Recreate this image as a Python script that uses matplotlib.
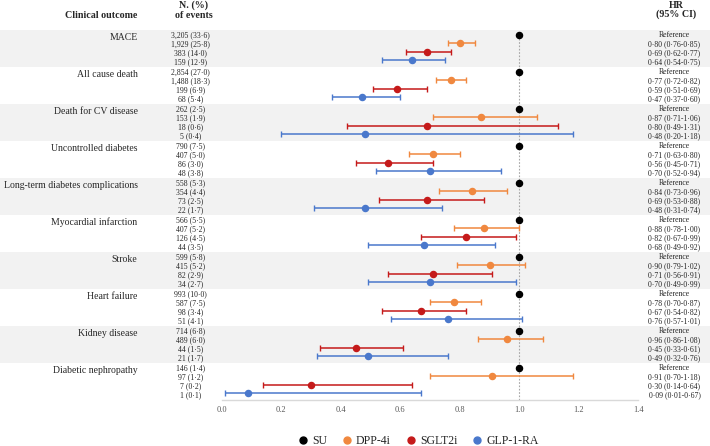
import matplotlib
matplotlib.use("Agg")
import matplotlib.pyplot as plt
from matplotlib.lines import Line2D
import numpy as np

plt.rcParams['font.family'] = ['Liberation Serif', 'DejaVu Serif']

outcomes = ["MACE", "All cause death", "Death for CV disease", "Uncontrolled diabetes",
            "Long-term diabetes complications", "Myocardial infarction", "Stroke",
            "Heart failure", "Kidney disease", "Diabetic nephropathy"]
drugs = ["SU", "DPP-4i", "SGLT2i", "GLP-1-RA"]
colors = ["#000000", "#F0883F", "#C51A1A", "#4A78CC"]

events = [
    ["3,205 (33·6)", "1,929 (25·8)", "383 (14·0)", "159 (12·9)"],
    ["2,854 (27·0)", "1,488 (18·3)", "199 (6·9)", "68 (5·4)"],
    ["262 (2·5)", "153 (1·9)", "18 (0·6)", "5 (0·4)"],
    ["790 (7·5)", "407 (5·0)", "86 (3·0)", "48 (3·8)"],
    ["558 (5·3)", "354 (4·4)", "73 (2·5)", "22 (1·7)"],
    ["566 (5·5)", "407 (5·2)", "126 (4·5)", "44 (3·5)"],
    ["599 (5·8)", "415 (5·2)", "82 (2·9)", "34 (2·7)"],
    ["993 (10·0)", "587 (7·5)", "98 (3·4)", "51 (4·1)"],
    ["714 (6·8)", "489 (6·0)", "44 (1·5)", "21 (1·7)"],
    ["146 (1·4)", "97 (1·2)", "7 (0·2)", "1 (0·1)"],
]

hr_text = [
    ["Reference", "0·80 (0·76-0·85)", "0·69 (0·62-0·77)", "0·64 (0·54-0·75)"],
    ["Reference", "0·77 (0·72-0·82)", "0·59 (0·51-0·69)", "0·47 (0·37-0·60)"],
    ["Reference", "0·87 (0·71-1·06)", "0·80 (0·49-1·31)", "0·48 (0·20-1·18)"],
    ["Reference", "0·71 (0·63-0·80)", "0·56 (0·45-0·71)", "0·70 (0·52-0·94)"],
    ["Reference", "0·84 (0·73-0·96)", "0·69 (0·53-0·88)", "0·48 (0·31-0·74)"],
    ["Reference", "0·88 (0·78-1·00)", "0·82 (0·67-0·99)", "0·68 (0·49-0·92)"],
    ["Reference", "0·90 (0·79-1·02)", "0·71 (0·56-0·91)", "0·70 (0·49-0·99)"],
    ["Reference", "0·78 (0·70-0·87)", "0·67 (0·54-0·82)", "0·76 (0·57-1·01)"],
    ["Reference", "0·96 (0·86-1·08)", "0·45 (0·33-0·61)", "0·49 (0·32-0·76)"],
    ["Reference", "0·91 (0·70-1·18)", "0·30 (0·14-0·64)", "0·09 (0·01-0·67)"],
]

# plotted values (SU = reference at 1.0)
hr = [
    [1.0, 0.80, 0.69, 0.64],
    [1.0, 0.77, 0.59, 0.47],
    [1.0, 0.87, 0.69, 0.48],
    [1.0, 0.71, 0.56, 0.70],
    [1.0, 0.84, 0.69, 0.48],
    [1.0, 0.88, 0.82, 0.68],
    [1.0, 0.90, 0.71, 0.70],
    [1.0, 0.78, 0.67, 0.76],
    [1.0, 0.96, 0.45, 0.49],
    [1.0, 0.91, 0.30, 0.09],
]
lo = [
    [np.nan, 0.76, 0.62, 0.54],
    [np.nan, 0.72, 0.51, 0.37],
    [np.nan, 0.71, 0.42, 0.20],
    [np.nan, 0.63, 0.45, 0.52],
    [np.nan, 0.73, 0.53, 0.31],
    [np.nan, 0.78, 0.67, 0.49],
    [np.nan, 0.79, 0.56, 0.49],
    [np.nan, 0.70, 0.54, 0.57],
    [np.nan, 0.86, 0.33, 0.32],
    [np.nan, 0.70, 0.14, 0.01],
]
hi = [
    [np.nan, 0.85, 0.77, 0.75],
    [np.nan, 0.82, 0.69, 0.60],
    [np.nan, 1.06, 1.13, 1.18],
    [np.nan, 0.80, 0.71, 0.94],
    [np.nan, 0.96, 0.88, 0.74],
    [np.nan, 1.00, 0.99, 0.92],
    [np.nan, 1.02, 0.91, 0.99],
    [np.nan, 0.87, 0.82, 1.01],
    [np.nan, 1.08, 0.61, 0.76],
    [np.nan, 1.18, 0.64, 0.67],
]
xticks = [0.0, 0.2, 0.4, 0.6, 0.8, 1.0, 1.2, 1.4]
xticklabels = ["0.0", "0.2", "0.4", "0.6", "0.8", "1.0", "1.2", "1.4"]

W, H = 710, 446
fig = plt.figure(figsize=(W / 100, H / 100), dpi=100)
fig.patch.set_facecolor("white")

top_px, bot_px = 30, 400
b = (H - bot_px) / H
h = (bot_px - top_px) / H
n = len(outcomes)

m_off = np.array([4.7, 13.1, 21.5, 29.9]) / 37.0
t_off = np.array([5.2, 14.2, 23.0, 32.0]) / 37.0

# background axes (full width)
bg = fig.add_axes([0, b, 1, h])
bg.set_xlim(0, 1)
bg.set_ylim(n, 0)
bg.axis("off")
for g in range(n):
    if g % 2 == 0:
        bg.axhspan(g, g + 1, color="#F2F2F2", lw=0, zorder=0)

txtc = "#262626"
x_lab = 137.5 / W
x_evt = 190.5 / W
x_hr = 674.5 / W
for g in range(n):
    bg.text(x_lab, g + 0.19, outcomes[g], ha="right", va="center", fontsize=7, color=txtc)
    for r in range(4):
        bg.text(x_evt, g + t_off[r], events[g][r], ha="center", va="center", fontsize=5.6, color=txtc)
        bg.text(x_hr, g + t_off[r], hr_text[g][r], ha="center", va="center", fontsize=5.6, color=txtc)

# headers
fig.text(x_lab, 1 - 15 / H, "Clinical outcome", ha="right", va="center", fontsize=7.2, fontweight="bold", color=txtc)
fig.text(194 / W, 1 - 5.5 / H, "N. (%)", ha="center", va="center", fontsize=7.2, fontweight="bold", color=txtc)
fig.text(194 / W, 1 - 16 / H, "of events", ha="center", va="center", fontsize=7.2, fontweight="bold", color=txtc)
fig.text(676.5 / W, 1 - 5.5 / H, "HR", ha="center", va="center", fontsize=7.2, fontweight="bold", color=txtc)
fig.text(676.5 / W, 1 - 14.5 / H, "(95% CI)", ha="center", va="center", fontsize=7.2, fontweight="bold", color=txtc)

# forest axes
x0_px, x1_px = 221.7, 638.3
ax = fig.add_axes([x0_px / W, b, (x1_px - x0_px) / W, h])
ax.patch.set_alpha(0)
ax.set_xlim(0, 1.4)
ax.set_ylim(n, 0)
ax.axvline(1.0, color="#A6A6A6", lw=0.8, ls=(0, (1.5, 1.5)), zorder=1)

for g in range(n):
    for r in range(4):
        y = g + m_off[r]
        if r == 0:
            ax.plot(hr[g][r], y, "o", color=colors[r], ms=4.4, zorder=4)
        else:
            x = hr[g][r]
            ax.errorbar(x, y, xerr=[[x - lo[g][r]], [hi[g][r] - x]], fmt="o", color=colors[r],
                        ecolor=colors[r], ms=4.4, elinewidth=1.1, capsize=2.2, capthick=1.0, zorder=3)

ax.set_yticks([])
ax.set_xticks(xticks)
ax.set_xticklabels(xticklabels)
ax.tick_params(axis="x", length=0, pad=4, labelsize=6, labelcolor="#595959")
for s in ["top", "right", "left"]:
    ax.spines[s].set_visible(False)
ax.spines["bottom"].set_color("#D9D9D9")
ax.spines["bottom"].set_linewidth(1.0)

handles = [Line2D([], [], marker="o", ls="none", color=c, ms=5) for c in colors]
fig.legend(handles, drugs, loc="center", bbox_to_anchor=(418 / W, 1 - 441.5 / H), ncol=4,
           frameon=False, fontsize=8.5, handlelength=1.0, handletextpad=0.25, columnspacing=1.2,
           labelcolor=txtc)

fig.savefig("out.png", dpi=100)
